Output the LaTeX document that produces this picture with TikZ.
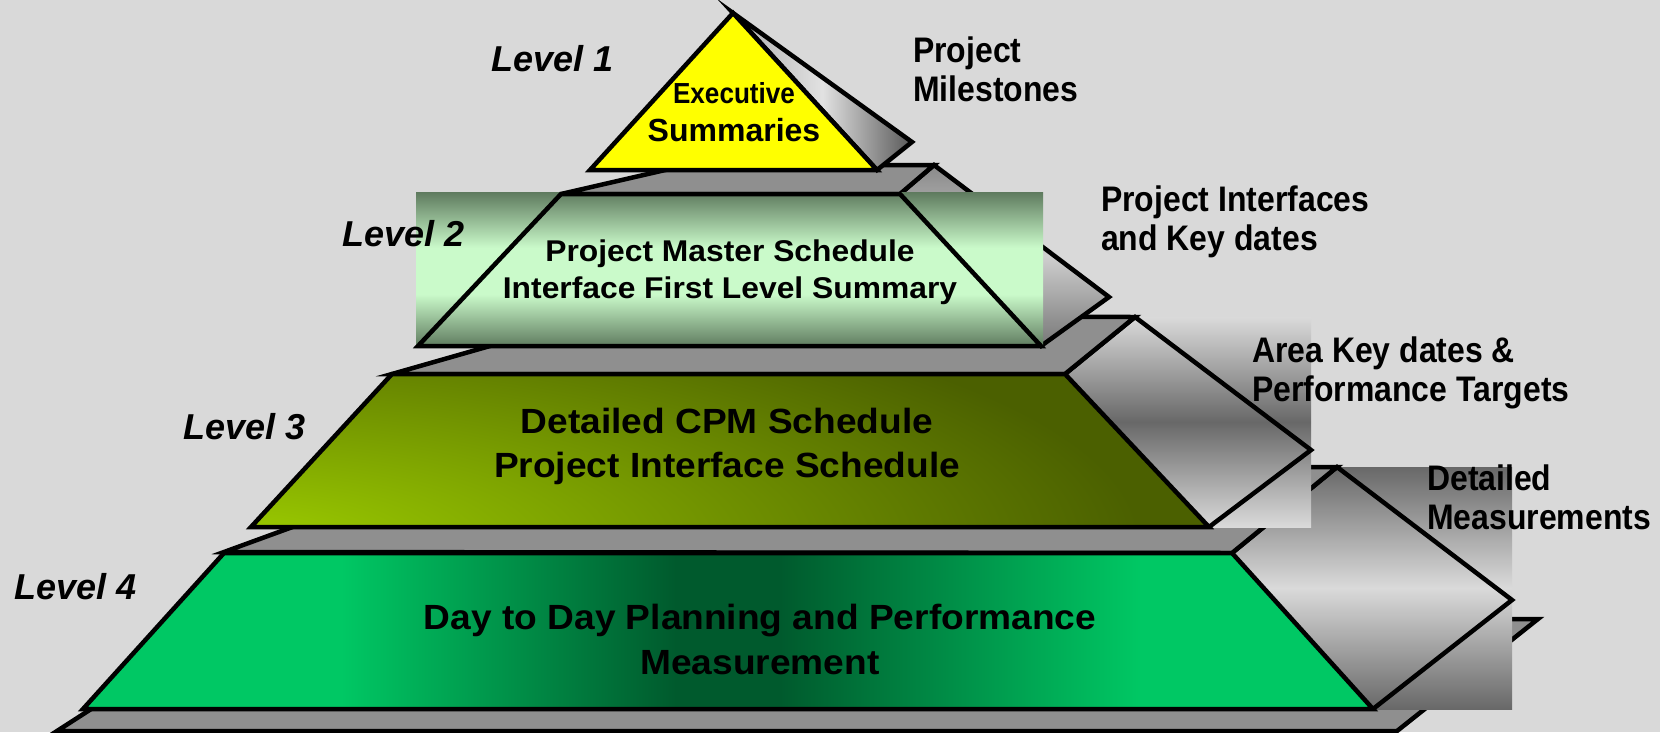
\documentclass[tikz,border=0pt]{standalone}
\usepackage{fontspec}
\setmainfont{Liberation Sans}
\newfontfamily\narrowsans[FakeStretch=0.9]{Liberation Sans}
\newfontfamily\widesans[FakeStretch=1.06]{Liberation Sans}
\definecolor{bggray}{HTML}{D9D9D9}
\definecolor{ledgegray}{HTML}{8F8F8F}
\definecolor{sidedark}{HTML}{686868}
\definecolor{sidemid}{HTML}{8A8A8A}
\definecolor{sidelight}{HTML}{DADADA}
\definecolor{execyellow}{HTML}{FFFF00}
\definecolor{mintdark}{HTML}{5E7A5E}
\definecolor{mintlight}{HTML}{CAFACA}
\definecolor{olivedark}{HTML}{4B6000}
\definecolor{olivelight}{HTML}{9CCC00}
\definecolor{greendark}{HTML}{005A2D}
\definecolor{greenlight}{HTML}{00C864}
\pgfdeclarehorizontalshading{greenband}{100bp}{color(0bp)=(greenlight); color(25bp)=(greenlight); color(35bp)=(greenlight); color(48bp)=(greendark); color(52bp)=(greendark); color(66bp)=(greenlight); color(100bp)=(greenlight)}
\pgfdeclareverticalshading{mintband}{100bp}{color(0bp)=(mintdark); color(25bp)=(mintdark); color(42bp)=(mintlight); color(57bp)=(mintlight); color(75bp)=(mintdark); color(100bp)=(mintdark)}

\begin{document}
\begin{tikzpicture}[x=1pt,y=-1pt,
    outline/.style={draw=black,line width=4.5pt},
    ledge/.style={outline,fill=ledgegray},
    levellabel/.style={anchor=base west,inner sep=0pt,font=\fontsize{36}{40}\selectfont\bfseries\itshape},
    sidelabel/.style={anchor=north west,inner sep=0pt,align=left,font=\narrowsans\fontsize{35.5}{39}\selectfont\bfseries},
    facetext/.style={anchor=north,inner sep=0pt,align=center}]
    \fill[bggray] (0,0) rectangle (1660,732);
    \useasboundingbox (0,0) rectangle (1660,732);
    \draw[ledge] (57,731) -- (231,619) -- (1538,619) -- (1397,731) -- cycle;
    \shade[top color=sidedark,bottom color=sidedark,middle color=sidelight] (1232,467) rectangle (1512,709);
    \draw[outline] (1232,553) -- (1337,467) -- (1512,600) -- (1373,709);
    \draw[ledge] (224,552) -- (457,467) -- (1337,467) -- (1232,553) -- cycle;
    \draw[outline,shading=greenband] (224,553) -- (1232,553) -- (1373,709) -- (83,709) -- cycle;
    \shade[top color=sidelight,bottom color=sidelight,middle color=sidedark] (1065,317) rectangle (1311,527);
    \draw[outline] (1065,374) -- (1135,317) -- (1311,450) -- (1209,527);
    \draw[ledge] (392,374) -- (595,316) -- (1135,317) -- (1065,374) -- cycle;
    \begin{scope}
        \clip (392,374) -- (1065,374) -- (1209,527) -- (251,527) -- cycle;
        \fill[olivedark] (251,317) rectangle (1209,527);
        \shade[inner color=olivelight,outer color=olivedark] (240,540) ellipse [x radius=900,y radius=260];
    \end{scope}
    \draw[outline] (392,374) -- (1065,374) -- (1209,527) -- (251,527) -- cycle;
    \draw[outline,top color=sidemid,bottom color=sidedark!90!white,middle color=sidelight!95!black] (900,194) -- (934,165) -- (1109,297) -- (1041,346) -- cycle;
    \draw[ledge] (561,194) -- (687,165) -- (934,165) -- (900,194) -- cycle;
    \shade[shading=mintband] (416,192) rectangle (1043,347);
    \draw[outline] (561,194) -- (900,194) -- (1041,346) -- (418,346) -- cycle;
    \draw[outline,left color=sidemid!70!white,right color=sidedark!85!black,middle color=sidelight!80!white] (733,13) -- (912,142) -- (877,170) -- cycle;
    \draw[outline,fill=execyellow] (590,170) -- (733,13) -- (877,170) -- cycle;
    \node[levellabel] (lvlone) at (491,71) {Level 1};
    \node[levellabel] (lvltwo) at (342,246) {Level 2};
    \node[levellabel] (lvlthree) at (183,439) {Level 3};
    \node[levellabel] (lvlfour) at (14,599) {Level 4};
    \node[sidelabel] (milestones) at (913,37) {Project\\Milestones};
    \node[sidelabel] (interfaces) at (1101,186) {Project Interfaces\\and Key dates};
    \node[sidelabel] (targets) at (1252,337) {Area Key dates \&\\Performance Targets};
    \node[sidelabel] (measures) at (1427,465) {Detailed\\Measurements};
    \node[facetext,font=\fontsize{32}{38}\selectfont\bfseries] (exec) at (734,82) {{\narrowsans\bfseries\fontsize{29}{38}\selectfont Executive}\\Summaries};
    \node[facetext,font=\widesans\fontsize{30}{37}\selectfont\bfseries] (master) at (730,240) {Project Master Schedule\\Interface First Level Summary};
    \node[facetext,font=\widesans\fontsize{35}{43.5}\selectfont\bfseries] (cpm) at (727,408) {Detailed CPM Schedule\\Project Interface Schedule};
    \node[facetext,font=\widesans\fontsize{35}{45}\selectfont\bfseries] (daily) at (760,604) {Day to Day Planning and Performance\\Measurement};
\end{tikzpicture}
\end{document}
